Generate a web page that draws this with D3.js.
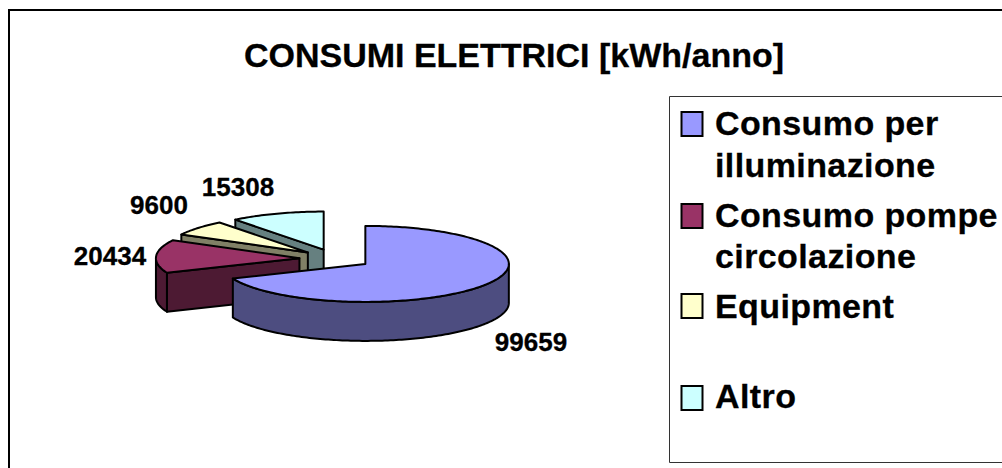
<!DOCTYPE html>
<html>
<head>
<meta charset="utf-8">
<script src="https://cdn.jsdelivr.net/npm/d3@7"></script>
<style>
  html, body { margin: 0; padding: 0; background: #fff; overflow: hidden; }
  text { font-family: "Liberation Sans", Arial, sans-serif; font-weight: bold; fill: #000; stroke: #000; stroke-width: 0.3px; }
</style>
</head>
<body>
<svg id="chart" width="1002" height="468"></svg>
<script>
// data
var categories = ["Consumo per illuminazione", "Consumo pompe circolazione", "Equipment", "Altro"];
var values = [99659, 20434, 9600, 15308];
var colors = ["#9999FF", "#993366", "#FFFFCC", "#CCFFFF"];
var sideColors = ["#4D4D80", "#4D1A33", "#808066", "#668080"];
var chartTitle = "CONSUMI ELETTRICI [kWh/anno]";

// layout
var cx = 335.4, cy = 258.6, rx = 143.5, ry = 38, depth = 39, explode = 36;
var labelPos = [[531, 351], [110, 265], [159, 214], [238, 196]];
var legendLines = [["Consumo per", "illuminazione"], ["Consumo pompe", "circolazione"], ["Equipment"], ["Altro"]];
var legendSwatchY = [112, 204, 294, 386];
var legendBaseY = [[135, 177], [227, 268], [318], [408]];

var svg = d3.select("#chart");

svg.append("path")
  .attr("d", "M9,468V10H1002")
  .attr("fill", "none").attr("stroke", "#000").attr("stroke-width", 2);

svg.append("text").attr("x", 514).attr("y", 67).attr("text-anchor", "middle")
  .attr("font-size", 34).text(chartTitle);

var arcs = d3.pie().sort(null)(values);

// angle 0 = 12 o'clock, clockwise
function apex(d) {
  var mid = (d.startAngle + d.endAngle) / 2;
  return [cx + explode * Math.sin(mid), cy - explode * Math.cos(mid) * ry / rx];
}
function rim(c, a) {
  return [c[0] + rx * Math.sin(a), c[1] - ry * Math.cos(a)];
}
function down(p) { return [p[0], p[1] + depth]; }

var line = d3.line();
function rimPoints(c, a0, a1) {
  var n = Math.max(2, Math.ceil(Math.abs(a1 - a0) / 0.02));
  return d3.range(n + 1).map(function(i) { return rim(c, a0 + (a1 - a0) * i / n); });
}

// back slices first, the big one last
var order = [3, 2, 1, 0];
var g = svg.append("g").attr("stroke", "#000").attr("stroke-width", 2).attr("stroke-linejoin", "round");

order.forEach(function(i) {
  var d = arcs[i], c = apex(d), a0 = d.startAngle, a1 = d.endAngle;

  // cut face at the start of the slice, seen when it faces the viewer
  if (a0 > Math.PI) {
    var p = rim(c, a0);
    g.append("path").attr("fill", sideColors[i])
      .attr("d", line([c, p, down(p), down(c)]) + "Z");
  }

  // outer wall, lower half of the ellipse only
  var w0 = Math.max(a0, Math.PI / 2), w1 = Math.min(a1, 3 * Math.PI / 2);
  if (w1 > w0) {
    var top = rimPoints(c, w0, w1);
    var bottom = top.map(down).reverse();
    g.append("path").attr("fill", sideColors[i])
      .attr("d", line(top.concat(bottom)) + "Z");
  }

  // top face
  g.append("path").attr("fill", colors[i])
    .attr("d", line([c].concat(rimPoints(c, a0, a1))) + "Z");
});

values.forEach(function(v, i) {
  svg.append("text").attr("x", labelPos[i][0]).attr("y", labelPos[i][1])
    .attr("text-anchor", "middle").attr("font-size", 26).text(v);
});

// legend
svg.append("path").attr("d", "M1002,96.5H669.5V462.5H1002")
  .attr("fill", "none").attr("stroke", "#333").attr("stroke-width", 1);

categories.forEach(function(name, i) {
  svg.append("rect").attr("x", 681.5).attr("y", legendSwatchY[i]).attr("width", 21).attr("height", 24)
    .attr("fill", colors[i]).attr("stroke", "#000").attr("stroke-width", 2);
  legendLines[i].forEach(function(t, j) {
    svg.append("text").attr("x", 715).attr("y", legendBaseY[i][j])
      .attr("font-size", 34).attr("letter-spacing", 0.4).text(t);
  });
});
</script>
</body>
</html>
